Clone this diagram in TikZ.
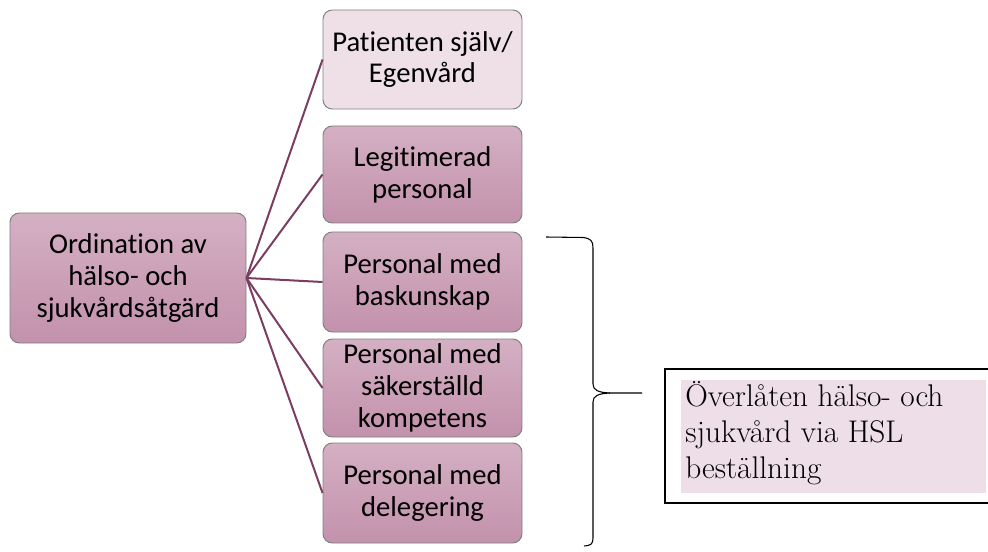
\documentclass[tikz,border=0pt]{standalone}
\usepackage{fontspec}
\setmainfont{Carlito}[Ligatures=NoCommon]
\newfontfamily\serifrm{Latin Modern Roman}
\definecolor{boxtop}{HTML}{D4B0C3}
\definecolor{boxbot}{HTML}{C391AC}
\definecolor{lightbox}{HTML}{EFE0E8}
\definecolor{boxedge}{HTML}{7F7F7F}
\definecolor{linkcol}{HTML}{7B3D61}
\definecolor{hslfill}{HTML}{EEDEE7}
\tikzset{
  box/.style={draw=boxedge, line width=0.7pt, rounded corners=7pt, top color=boxtop, bottom color=boxbot,
    align=center, font=\fontsize{21.5pt}{23.8pt}\selectfont, inner sep=0pt},
  lightboxstyle/.style={box, top color=lightbox, bottom color=lightbox},
  link/.style={draw=linkcol, line width=1.5pt}
}
\begin{document}
\begin{tikzpicture}[x=0.75pt,y=-0.75pt]
\useasboundingbox (0,0) rectangle (988,552);
\clip (0,0) rectangle (988,552);
\node[box, minimum width=236*0.75pt, minimum height=130*0.75pt] (main) at (128,278) {Ordination av\\hälso- och\\sjukvårdsåtgärd};
\node[lightboxstyle, minimum width=199*0.75pt, minimum height=99*0.75pt] (pat) at (422.5,59.5) {Patienten själv/\\Egenvård};
\node[box, minimum width=199*0.75pt, minimum height=97*0.75pt] (leg) at (422.5,174.5) {Legitimerad\\personal};
\node[box, minimum width=199*0.75pt, minimum height=100*0.75pt] (bas) at (422.5,282) {Personal med\\baskunskap};
\node[box, minimum width=199*0.75pt, minimum height=98*0.75pt] (sak) at (422.5,388) {Personal med\\säkerställd\\kompetens};
\node[box, minimum width=199*0.75pt, minimum height=100*0.75pt] (del) at (422.5,493) {Personal med\\delegering};
\foreach \n in {pat,leg,bas,sak,del} \draw[link] (main.east) -- (\n.west);
% brace
\draw[line width=0.8pt] (546,237) -- (583,237.5) .. controls (591,238.5) and (593,241) .. (593,248)
  -- (593,384) .. controls (593,390) and (598,392.5) .. (610,393) -- (642,393);
\draw[line width=0.8pt] (610,393) .. controls (598,393.5) and (593,396) .. (593,402)
  -- (593,538) .. controls (593,544) and (591,545.5) .. (584,546);
% HSL box
\node[draw, line width=0.8pt, minimum width=330*0.75pt, minimum height=134*0.75pt, inner sep=0pt] (hsl) at (830,436) {};
\fill[hslfill] (681,380) rectangle (986,493);
\node[anchor=base west, align=left, inner sep=0pt, font=\serifrm\fontsize{23.5pt}{27pt}\selectfont] (hsltext) at (685,478) {Överlåten hälso- och\\sjukvård via HSL\\beställning};
\end{tikzpicture}
\end{document}
